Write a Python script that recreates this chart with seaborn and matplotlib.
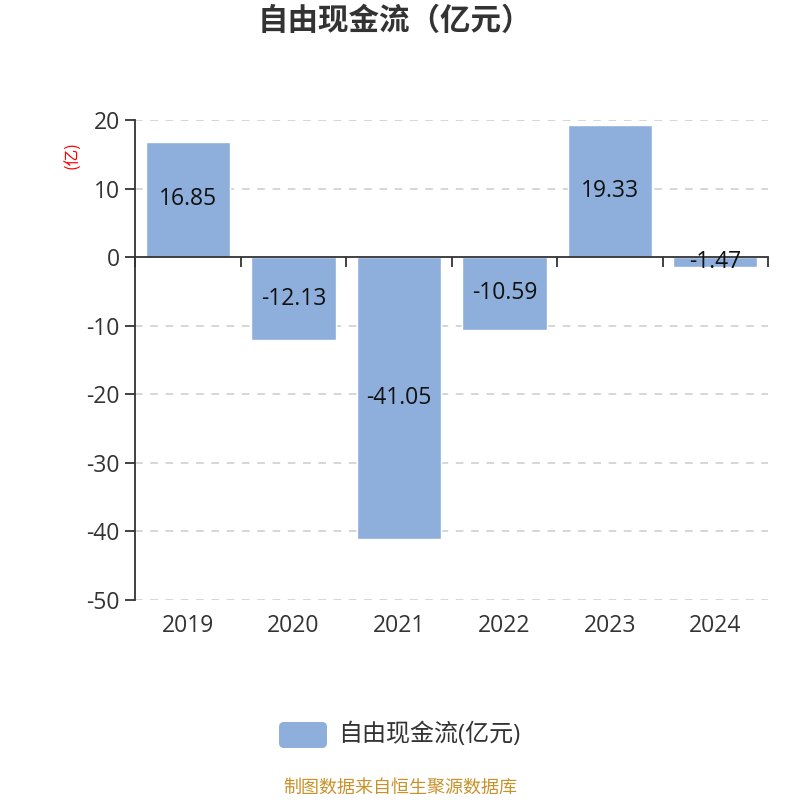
import matplotlib
matplotlib.use("Agg")
import matplotlib.pyplot as plt
import seaborn as sns
import pandas as pd
from matplotlib.patches import FancyBboxPatch
from matplotlib.transforms import blended_transform_factory

years = ["2019", "2020", "2021", "2022", "2023", "2024"]
values = [16.85, -12.13, -41.05, -10.59, 19.33, -1.47]
series_name = "自由现金流(亿元)"
title = "自由现金流（亿元）"
unit = "(亿)"
source = "制图数据来自恒生聚源数据库"
y_ticks = [20, 10, 0, -10, -20, -30, -40, -50]

sns.set_theme(style="white")
plt.rcParams['font.family'] = ['Open Sans', 'Noto Sans CJK SC', 'DejaVu Sans']
plt.rcParams['axes.unicode_minus'] = False

df = pd.DataFrame({"year": years, "value": values})

fig = plt.figure(figsize=(8, 8), dpi=100)
ax = fig.add_axes([0.169, 0.25, 0.791, 0.60])

bar_color = "#8EAEDB"
sns.barplot(data=df, x="year", y="value", color=bar_color, width=0.8,
            saturation=1, ax=ax)

ax.set_ylim(min(y_ticks), max(y_ticks))
ax.set_xlim(-0.5, len(years) - 0.5)
ax.set_yticks(y_ticks)
ax.set_yticklabels([str(t) for t in y_ticks], fontsize=16.5, color="#333333")
for t in y_ticks:
    if t != 0:
        ax.axhline(t, color="#cccccc", linestyle=(0, (5, 5)), linewidth=1.1, zorder=0)

for sp in ["top", "right"]:
    ax.spines[sp].set_visible(False)
ax.spines["left"].set_color("#333333")
ax.spines["left"].set_linewidth(1.3)
ax.spines["bottom"].set_position(("data", 0))
ax.spines["bottom"].set_color("#333333")
ax.spines["bottom"].set_linewidth(1.3)

ax.set_xticks([i - 0.5 for i in range(len(years) + 1)])
ax.set_xticklabels([])
ax.tick_params(axis="x", direction="out", length=7, width=1.3, color="#333333", bottom=True)
ax.tick_params(axis="y", direction="out", length=7, width=1.3, color="#333333", left=True, pad=4)
ax.set_xlabel("")
ax.set_ylabel("")

trans = blended_transform_factory(ax.transData, ax.transAxes)
for i, y in enumerate(years):
    ax.text(i, -0.054, y, transform=trans, ha="center", va="center",
            fontsize=16.5, color="#333333")

for i, v in enumerate(values):
    ax.text(i, v / 2, f"{v:.2f}", ha="center", va="center", fontsize=16.5, color="#111111")

fig.text(0.091, 0.806, unit, rotation=90, color="red", fontsize=12, ha="center", va="center",
         family=['Noto Sans CJK SC'])

fig.text(0.494, 0.972, title, ha="center", va="center", fontsize=22,
         fontweight="bold", color="#333333")

# legend
leg_ax = fig.add_axes([0, 0, 1, 1], facecolor="none")
leg_ax.set_xlim(0, 800)
leg_ax.set_ylim(800, 0)
leg_ax.axis("off")
leg_ax.add_patch(FancyBboxPatch((279, 722), 48, 26, boxstyle="round,pad=0,rounding_size=5",
                                facecolor=bar_color, edgecolor="none"))
leg_ax.text(338, 735, series_name, ha="left", va="center", fontsize=17.3, color="#333333")

fig.text(0.5, 0.015, source, ha="center", va="center", fontsize=13, color="#C8922A")

fig.savefig("out.png", dpi=100, facecolor="white")
